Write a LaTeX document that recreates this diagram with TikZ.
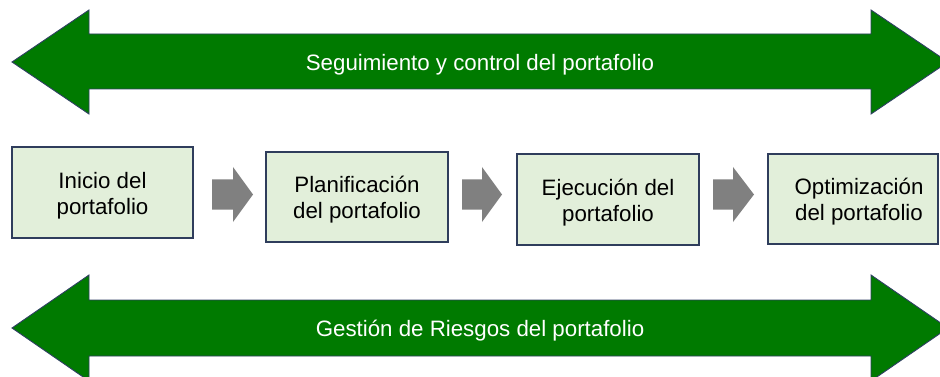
\documentclass[tikz,border=0pt]{standalone}
\usepackage{fontspec}
\setmainfont{Liberation Sans}
\definecolor{bandgreen}{HTML}{007A00}
\definecolor{edgeblue}{HTML}{2F3F63}
\definecolor{boxfill}{HTML}{E2EFDA}
\definecolor{boxedge}{HTML}{2F3D5C}
\definecolor{stepgray}{HTML}{808080}
\begin{document}
\begin{tikzpicture}[x=1pt,y=-1pt,
  band/.style={fill=bandgreen,draw=edgeblue,line width=0.9pt,line join=miter},
  bandtext/.style={text=white,font=\fontsize{22.3}{26}\selectfont,inner sep=0pt},
  stagebox/.style={draw=boxedge,fill=boxfill,line width=1.2pt,inner sep=0pt},
  stagetext/.style={align=center,font=\fontsize{22.3}{26}\selectfont,inner sep=0pt,text=black},
  flowarrow/.style={fill=stepgray}]
\useasboundingbox (0,0) rectangle (940,377);
\clip (0,0) rectangle (940,377);
% top band arrow
\draw[band] (12,62) -- (89,10) -- (89,34) -- (871,34) -- (871,10) -- (948,62)
  -- (871,114) -- (871,89) -- (89,89) -- (89,114) -- cycle;
\node[bandtext] (top) at (480,64.5) {Seguimiento y control del portafolio};
% bottom band arrow
\draw[band] (12,328) -- (89,275) -- (89,300) -- (871,300) -- (871,275) -- (948,328)
  -- (871,381) -- (871,356) -- (89,356) -- (89,381) -- cycle;
\node[bandtext] (bottom) at (480,331) {Gestión de Riesgos del portafolio};
% stage boxes
\node[stagebox,minimum width=181pt,minimum height=91pt] (s1) at (102.5,192.5) {};
\node[stagebox,minimum width=182pt,minimum height=90pt] (s2) at (357,197) {};
\node[stagebox,minimum width=182pt,minimum height=91pt] (s3) at (608,199.5) {};
\node[stagebox,minimum width=170pt,minimum height=90pt] (s4) at (853,199) {};
\node[stagetext] (t1) at ([yshift=-3pt]s1.center) {Inicio del\\portafolio};
\node[stagetext] (t2) at ([yshift=-3pt]s2.center) {Planificación\\del portafolio};
\node[stagetext] (t3) at ([yshift=-3pt]s3.center) {Ejecución del\\portafolio};
\node[stagetext] (t4) at ([xshift=6pt,yshift=-3pt]s4.center) {Optimización\\del portafolio};
% gray step arrows
\fill[flowarrow] (212,179.5) -- (233,179.5) -- (233,167) -- (253,194.5) -- (233,222) -- (233,209.5) -- (212,209.5) -- cycle;
\fill[flowarrow] (462,179.5) -- (482,179.5) -- (482,167) -- (502,194.5) -- (482,222) -- (482,209.5) -- (462,209.5) -- cycle;
\fill[flowarrow] (713,179.5) -- (733,179.5) -- (733,167) -- (754,194.5) -- (733,222) -- (733,209.5) -- (713,209.5) -- cycle;
\end{tikzpicture}
\end{document}
